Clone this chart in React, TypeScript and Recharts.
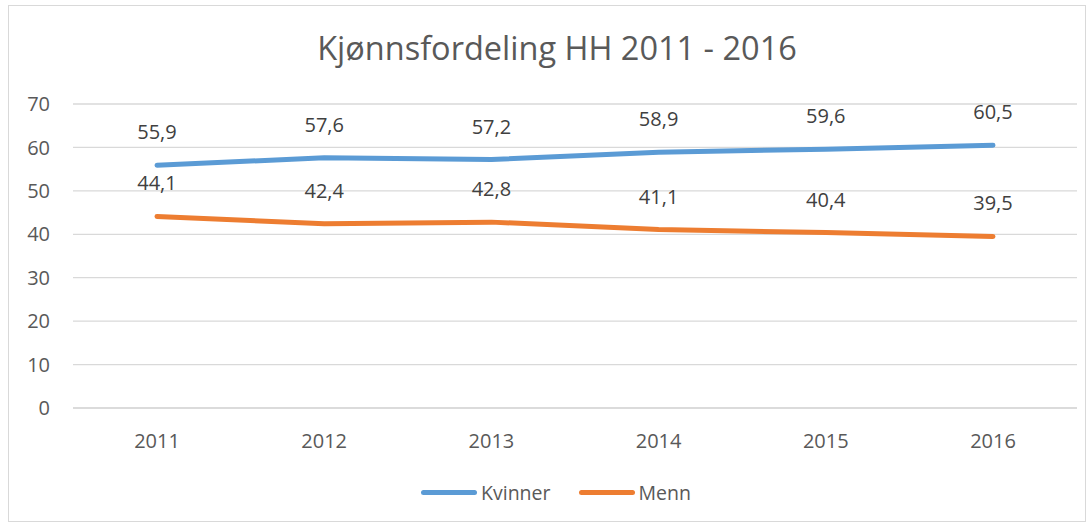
import React from "react";
import { LineChart, Line, XAxis, YAxis, CartesianGrid, Legend, LabelList } from "recharts";

const years = ["2011", "2012", "2013", "2014", "2015", "2016"];
const kvinner = [55.9, 57.6, 57.2, 58.9, 59.6, 60.5];
const menn = [44.1, 42.4, 42.8, 41.1, 40.4, 39.5];
const yTicks = [0, 10, 20, 30, 40, 50, 60, 70];
const title = "Kjønnsfordeling HH 2011 - 2016";

const data = years.map((y, i) => ({ year: y, Kvinner: kvinner[i], Menn: menn[i] }));

const FONT = "'Open Sans', sans-serif";
const fmt = (v: any) => String(v).replace(".", ",");

const LegendContent = () => (
  <div style={{ display: "flex", justifyContent: "center", alignItems: "center", height: 24, paddingLeft: 26, fontFamily: FONT, fontSize: 19.5, color: "#595959" }}>
    {[{ name: "Kvinner", color: "#5b9bd5" }, { name: "Menn", color: "#ed7d31" }].map((it, i) => (
      <div key={it.name} style={{ display: "flex", alignItems: "center", marginLeft: i ? 28 : 0 }}>
        <div style={{ width: 56, height: 5, borderRadius: 3, background: it.color, marginRight: 4 }} />
        <span>{it.name}</span>
      </div>
    ))}
  </div>
);

export default function App() {
  return (
    <div style={{ position: "absolute", left: 8, top: 5, width: 1076, height: 515, border: "1px solid #d9d9d9", background: "#fff" }}>
      <div style={{ position: "absolute", left: 0, width: 1076, top: 22, textAlign: "center", fontFamily: FONT, fontSize: 32.5, color: "#595959", paddingLeft: 20, boxSizing: "border-box", lineHeight: "40px" }}>
        {title}
      </div>
      <LineChart width={1076} height={515} data={data} margin={{ top: 98, right: 8, left: 0, bottom: 59 }}>
        <CartesianGrid vertical={false} stroke="#d9d9d9" strokeWidth={1.3} />
        <XAxis
          dataKey="year"
          height={30}
          padding={{ left: 84, right: 84 }}
          axisLine={{ stroke: "#d9d9d9", strokeWidth: 1.3 }}
          tickLine={false}
          tickSize={0}
          tickMargin={26}
          tick={{ fill: "#595959", fontSize: 20, fontFamily: FONT }}
        />
        <YAxis
          width={64}
          domain={[0, 70]}
          ticks={yTicks}
          axisLine={false}
          tickLine={false}
          tickSize={0}
          tickMargin={23}
          tick={{ fill: "#595959", fontSize: 20, fontFamily: FONT }}
        />
        <Legend verticalAlign="bottom" content={<LegendContent />} wrapperStyle={{ bottom: 17, height: 24 }} />
        <Line type="linear" dataKey="Kvinner" stroke="#5b9bd5" strokeWidth={5} strokeLinecap="round" dot={false} isAnimationActive={false}>
          <LabelList dataKey="Kvinner" position="top" offset={26} formatter={fmt} style={{ fill: "#404040", fontSize: 20, fontFamily: FONT }} />
        </Line>
        <Line type="linear" dataKey="Menn" stroke="#ed7d31" strokeWidth={5} strokeLinecap="round" dot={false} isAnimationActive={false}>
          <LabelList dataKey="Menn" position="top" offset={26} formatter={fmt} style={{ fill: "#404040", fontSize: 20, fontFamily: FONT }} />
        </Line>
      </LineChart>
    </div>
  );
}
